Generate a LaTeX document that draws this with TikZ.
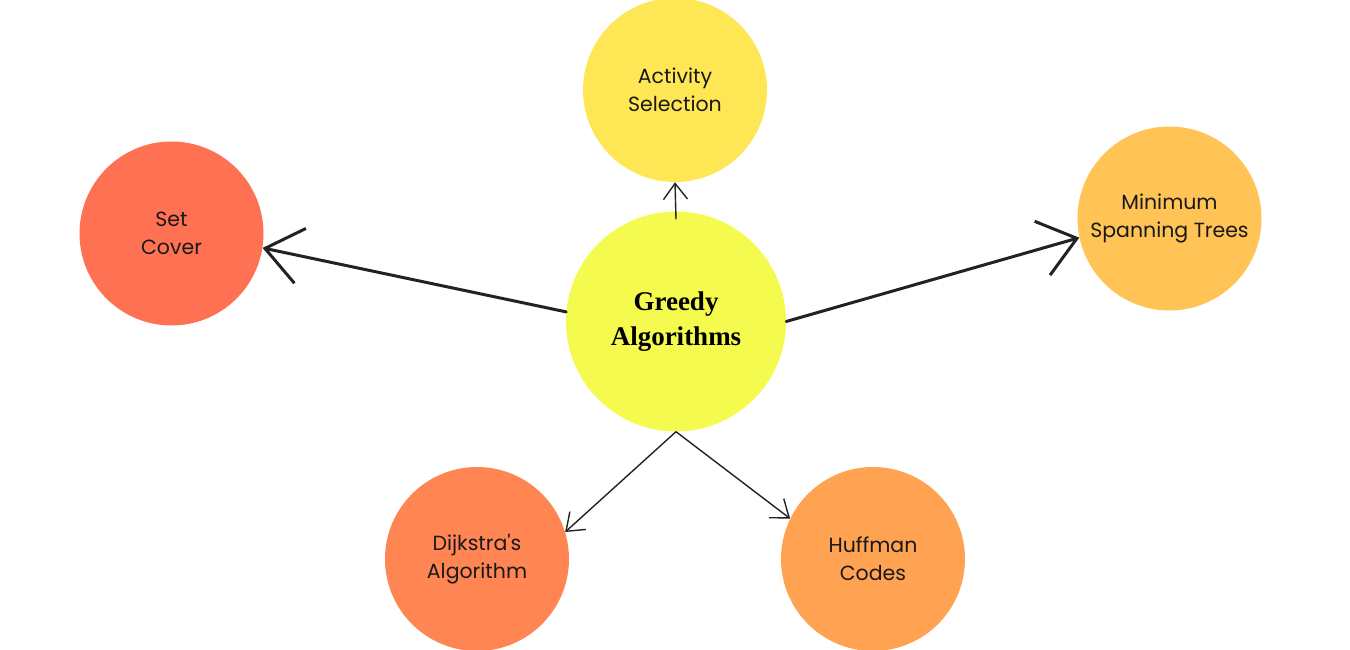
\documentclass[tikz,border=0pt]{standalone}
\usepackage{fontspec}
\setmainfont{Poppins}
\newfontfamily\titlefont{Liberation Serif}
\usetikzlibrary{arrows.meta}
\definecolor{greedyyellow}{HTML}{F4FB4E}
\definecolor{activityyellow}{HTML}{FFE655}
\definecolor{setcoral}{HTML}{FF7153}
\definecolor{mstorange}{HTML}{FFC455}
\definecolor{dijkstraorange}{HTML}{FF8552}
\definecolor{huffmanorange}{HTML}{FFA352}
\definecolor{pencil}{HTML}{222222}
\begin{document}
\begin{tikzpicture}[x=1pt, y=-1pt,
        topic/.style={circle, minimum size=184pt, inner sep=0pt, align=center,
            font=\fontsize{20.5}{28.5}\selectfont, text=black!90},
        thin arrow/.style={-{Straight Barb[length=16pt, width=24pt]}, line width=1.4pt, draw=pencil},
        thick arrow/.style={-{Straight Barb[length=36pt, width=56pt]}, line width=3pt, draw=pencil, line cap=round}]
        \useasboundingbox (0, 0) rectangle (1350, 650);

        \node[circle, fill=greedyyellow, minimum size=220pt, inner sep=0pt, align=center,
            font=\titlefont\bfseries\fontsize{27}{35}\selectfont] (greedy) at (676, 321.5) {Greedy\\Algorithms};

        \node[topic, fill=activityyellow] (activity) at (675, 90) {Activity\\Selection};
        \node[topic, fill=setcoral] (setcover) at (171.5, 233.5) {Set\\Cover};
        \node[topic, fill=mstorange] (mst) at (1169.5, 218.5) {Minimum\\Spanning Trees};
        \node[topic, fill=dijkstraorange] (dijkstra) at (477, 559) {Dijkstra\textquotesingle s\\Algorithm};
        \node[topic, fill=huffmanorange] (huffman) at (873, 559) {Huffman\\Codes};

        \draw[thin arrow] ([yshift=-8pt]greedy.north) -- (activity.south);
        \draw[thick arrow] (greedy.175) -- (setcover.-9);
        \draw[thick arrow] (greedy.east) -- (mst.192);
        \draw[thin arrow] (greedy.south) -- (dijkstra.17);
        \draw[thin arrow] (greedy.south) -- (huffman.154);
    \end{tikzpicture}
\end{document}
